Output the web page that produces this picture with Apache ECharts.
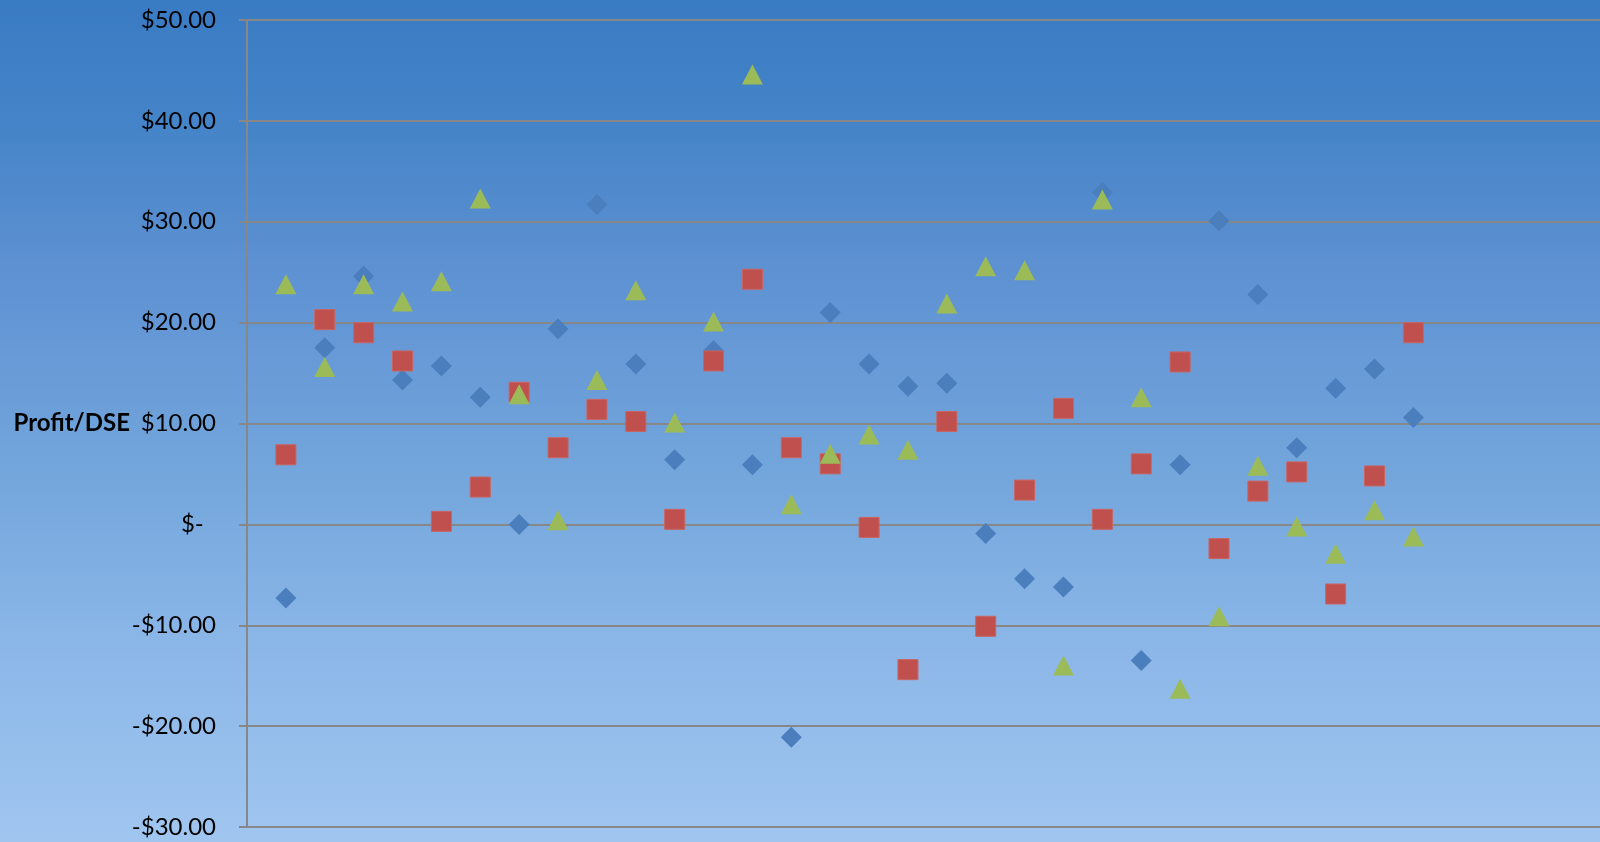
<!DOCTYPE html>
<html>
<head>
<meta charset="utf-8">
<script src="https://cdn.jsdelivr.net/npm/echarts@6/dist/echarts.min.js"></script>
<style>
html,body{margin:0;padding:0;width:1600px;height:842px;overflow:hidden;}
#chart{width:1600px;height:842px;}
</style>
</head>
<body>
<div id="chart"></div>
<script>
// Data
const positions = [1,2,3,4,5,6,7,8,9,10,11,12,13,14,15,16,17,18,19,20,21,22,23,24,25,26,27,28,29,30];
const blueValues = [-7.3,17.5,24.6,14.3,15.7,12.6,0.0,19.4,31.7,15.9,6.4,17.2,5.9,-21.1,21.0,15.9,13.7,14.0,-0.9,-5.4,-6.2,32.9,-13.5,5.9,30.1,22.8,7.6,13.5,15.4,10.6];
const redValues = [6.9,20.3,19.0,16.2,0.3,3.7,13.1,7.6,11.4,10.2,0.5,16.2,24.3,7.6,6.0,-0.3,-14.4,10.2,-10.1,3.4,11.5,0.5,6.0,16.1,-2.4,3.3,5.2,-6.9,4.8,19.0];
const greenValues = [23.8,15.6,23.8,22.1,24.1,32.3,12.9,0.4,14.3,23.2,10.1,20.1,44.6,2.0,7.0,8.9,7.4,21.9,25.6,25.2,-14.0,32.2,12.6,-16.3,-9.1,5.8,-0.2,-2.9,1.4,-1.2];
const yTicks = [-30,-20,-10,0,10,20,30,40,50];
const yAxisName = 'Profit/DSE';

function pairs(vals){ return positions.map((p,i)=>[p, vals[i]]); }
function fmt(v){
  if (Math.abs(v) < 1e-9) return '$-  ';
  const s = '$' + Math.abs(v).toFixed(2);
  return v < 0 ? '-' + s : s;
}

const chart = echarts.init(document.getElementById('chart'), null, {renderer:'canvas'});
const font = 'Lato, "Open Sans", sans-serif';
chart.setOption({
  animation:false,
  backgroundColor:{
    type:'linear', x:0, y:0, x2:0, y2:1,
    colorStops:[
      {offset:0, color:'#397bc3'},
      {offset:0.15, color:'#4584c8'},
      {offset:0.33, color:'#5f92d3'},
      {offset:0.55, color:'#72a5db'},
      {offset:0.75, color:'#89b5e7'},
      {offset:1, color:'#a0c6f0'}
    ]
  },
  grid:{left:247, right:0, top:20, bottom:15, containLabel:false},
  xAxis:{
    type:'value', min:0, max:34.8,
    axisLine:{show:false}, axisTick:{show:false}, axisLabel:{show:false},
    splitLine:{show:false}
  },
  yAxis:{
    type:'value', min:yTicks[0], max:yTicks[yTicks.length-1], interval:10,
    name:yAxisName, nameLocation:'middle', nameRotate:0, nameGap:117, nameMoveOverlap:false,
    nameTextStyle:{fontFamily:font, fontWeight:'bold', fontSize:24, color:'#000', align:'right'},
    axisLine:{show:true, lineStyle:{color:'#878787', width:2}},
    axisTick:{show:true, length:8, lineStyle:{color:'#878787', width:2}},
    axisLabel:{margin:31, fontFamily:font, fontSize:24, color:'#000', formatter:fmt},
    splitLine:{show:true, lineStyle:{color:'#878787', width:2}}
  },
  series:[
    {type:'scatter', name:'Series 1', symbol:'diamond', symbolSize:[21,21], data:pairs(blueValues),
     itemStyle:{color:'#4a7ebd', opacity:1}},
    {type:'scatter', name:'Series 2', symbol:'rect', symbolSize:[20,20], data:pairs(redValues),
     itemStyle:{color:'#c0504d', borderColor:'#c96461', borderWidth:1, opacity:1}},
    {type:'scatter', name:'Series 3', symbol:'triangle', symbolSize:[21,20], data:pairs(greenValues),
     itemStyle:{color:'#9bbb59', opacity:1}}
  ]
});
</script>
</body>
</html>
